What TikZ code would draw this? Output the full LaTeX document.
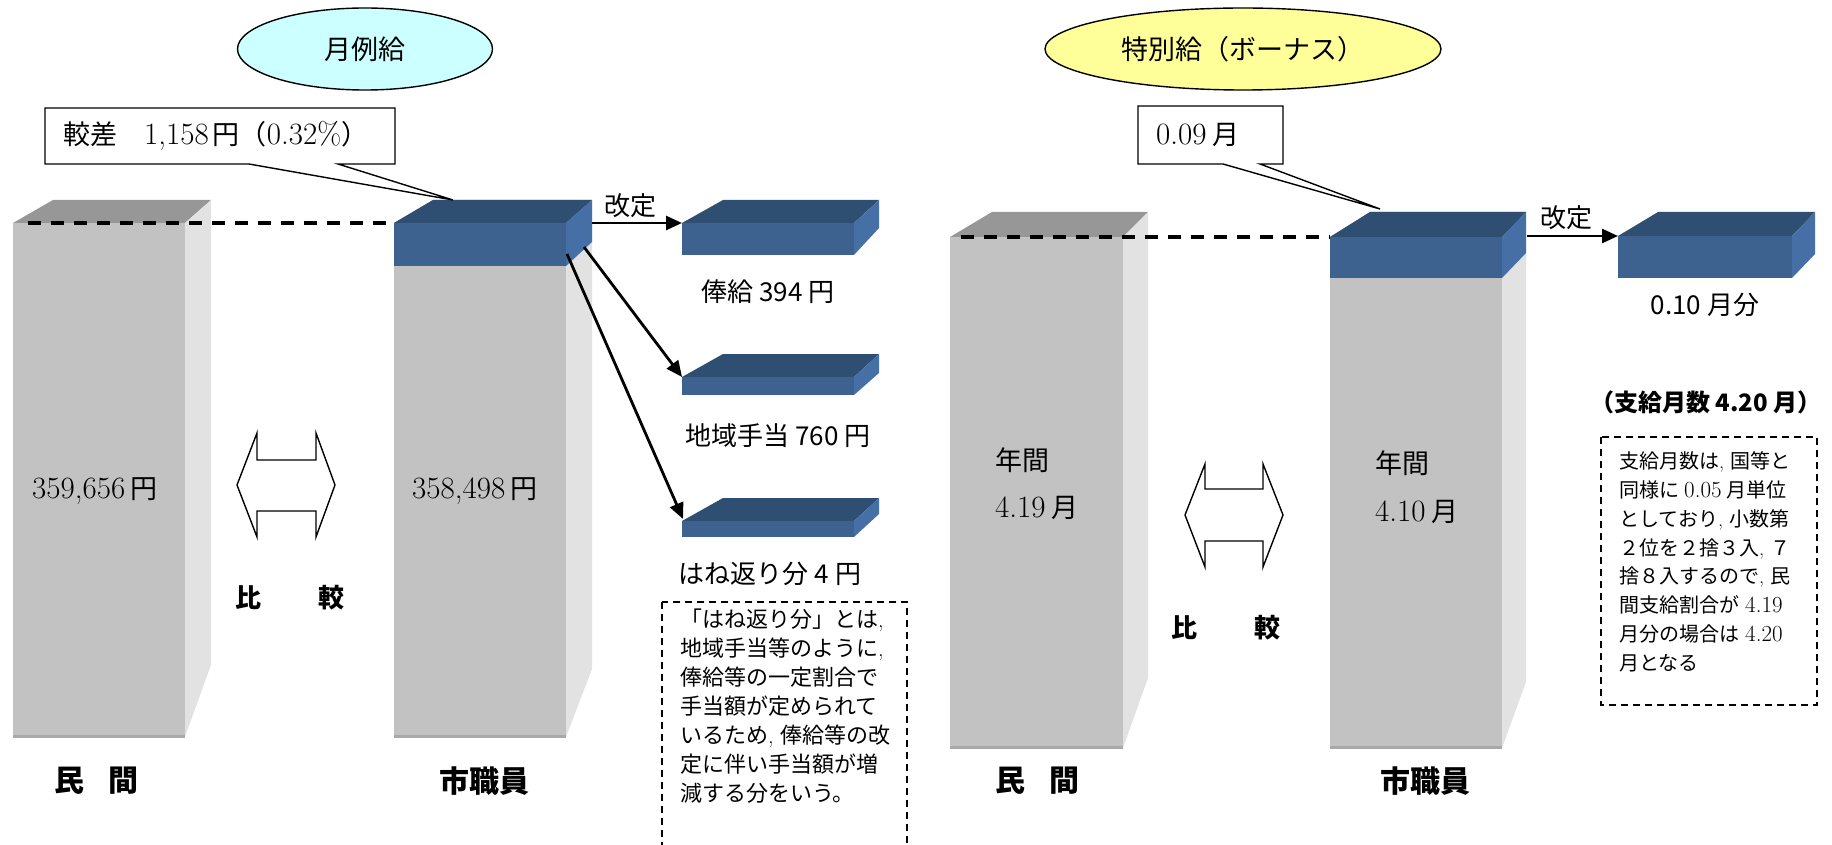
\documentclass[tikz,border=0pt]{standalone}
\usepackage{fontspec}
\newfontfamily\jp{Noto Sans CJK JP}
\usetikzlibrary{shapes.geometric,arrows.meta}
\definecolor{greyfront}{HTML}{C2C2C2}
\definecolor{greytop}{HTML}{979797}
\definecolor{greyside}{HTML}{E2E2E2}
\definecolor{greyedge}{HTML}{A9A9A9}
\definecolor{bluefront}{HTML}{3E628F}
\definecolor{bluetop}{HTML}{2F4F72}
\definecolor{blueside}{HTML}{4670A5}
\definecolor{cyanfill}{HTML}{CCFFFF}
\definecolor{yellowfill}{HTML}{FFFF99}
\newcommand{\fs}[1]{\fontsize{#1}{#1}\selectfont}
\newcommand{\num}[2]{{\rmfamily\fontsize{#1}{#1}\selectfont #2}}
\newcommand{\rc}{{\rmfamily,}\hspace{0.3em}}
% front x1,y1,x2,y2 ; left dx ; right dx ; top dy ; side-bottom dy ; colour prefix
\newcommand{\prism}[9]{%
  \fill[#9top] (#1,#2) -- (#1+#5,#2-#7) -- (#3+#6,#2-#7) -- (#3,#2) -- cycle;
  \fill[#9side] (#3,#2) -- (#3+#6,#2-#7) -- (#3+#6,#4-#8) -- (#3,#4) -- cycle;
  \fill[#9front] (#1,#2) rectangle (#3,#4);
}
\tikzset{
  conn/.style={line width=2.8pt, -{Triangle[length=16pt,width=14pt]}},
  cmp/.style={draw=black, fill=white, line width=1.4pt, line join=miter},
  lvl/.style={line width=3.2pt, dash pattern=on 13pt off 10pt},
  callout/.style={draw=black, fill=white, line width=1.4pt},
  note/.style={draw=black, line width=1.6pt, dash pattern=on 7pt off 5pt},
  oval/.style={ellipse, draw=black, line width=1.4pt, inner sep=0pt},
  big/.style={font=\jp\bfseries\fs{30}, inner sep=0pt},
  cmpl/.style={font=\jp\bfseries\fs{26}, inner sep=0pt},
  lab/.style={font=\jp\fs{26}, inner sep=0pt},
  val/.style={font=\jp\fs{27}, inner sep=0pt, anchor=west},
  ntl/.style={font=\jp\fs{22}, inner sep=0pt, anchor=base west},
  ntr/.style={font=\jp\fs{20}, inner sep=0pt, anchor=base west},
}
\begin{document}
\begin{tikzpicture}[x=1pt,y=-1pt]
\useasboundingbox (0,0) rectangle (1832,845);

% ---------- left panel: bars ----------
\prism{13}{223}{185}{737}{40}{26}{23}{72}{grey}
\fill[greyedge] (13,735) rectangle (185,738);
\prism{394}{223}{566}{737}{39}{26}{23}{68}{grey}
\fill[greyedge] (394,735) rectangle (566,738);
\prism{394}{223}{566}{266}{39}{26}{23}{24}{blue}
\prism{682}{223}{854}{255}{41}{25}{23}{27}{blue}
\prism{682}{377}{854}{395}{41}{25}{23}{22}{blue}
\prism{682}{521}{854}{537}{41}{25}{23}{23}{blue}

% ---------- right panel: bars ----------
\prism{950}{237}{1123}{748}{42}{25}{25}{70}{grey}
\fill[greyedge] (950,746) rectangle (1123,749);
\prism{1330}{237}{1502}{748}{40}{24}{25}{66}{grey}
\fill[greyedge] (1330,746) rectangle (1502,749);
\prism{1330}{237}{1502}{278}{40}{24}{25}{25}{blue}
\prism{1618}{236}{1792}{278}{40}{23}{24}{24}{blue}

% ---------- level lines ----------
\coordinate (lvL) at (28,223);
\coordinate (blueL) at (394,223);
\draw[lvl] (lvL) -- (blueL);
\coordinate (lvR) at (961,237);
\coordinate (blueR) at (1330,237);
\draw[lvl] (lvR) -- (blueR);

% ---------- ovals ----------
\node[oval, fill=cyanfill, minimum width=255pt, minimum height=82pt, font=\jp\fs{27}] (ovL) at (365,49) {月例給};
\node[oval, fill=yellowfill, minimum width=396pt, minimum height=82pt, font=\jp\fs{27}] (ovR) at (1243,49) {特別給（ボーナス）};

% ---------- callouts ----------
\coordinate (tipL) at (453,200);
\draw[callout] (45,108) -- (395,108) -- (395,164) -- (338,164) -- (tipL) -- (249,164) -- (45,164) -- cycle;
\node[anchor=west, font=\jp\fs{27}, inner sep=0pt] (gapL) at (63,136) {較差　\num{31}{1,158}\hspace{4pt}円（\num{31}{0.32\%}）};
\coordinate (tipR) at (1380,209);
\draw[callout] (1138,106) -- (1283,106) -- (1283,164) -- (1260,164) -- (tipR) -- (1223,164) -- (1138,164) -- cycle;
\node[anchor=west, font=\jp\fs{27}, inner sep=0pt] (gapR) at (1156,135) {\num{31}{0.09}\hspace{6pt}月};

% ---------- compare arrows ----------
\draw[cmp] (237,485) -- (257,433) -- (257,460) -- (316,460) -- (316,433) -- (335,485)
  -- (316,537) -- (316,511) -- (257,511) -- (257,537) -- cycle;
\draw[cmp] (1185,515) -- (1205,464) -- (1205,489) -- (1263,489) -- (1263,464) -- (1283,515)
  -- (1263,567) -- (1263,541) -- (1205,541) -- (1205,567) -- cycle;
\node[cmpl] (cmpL) at (290,598) {比\hspace{58pt}較};
\node[cmpl] (cmpR) at (1226,628) {比\hspace{58pt}較};

% ---------- values in bars ----------
\node[val] (vPriv) at (32,491) {\num{31}{359,656}\hspace{5pt}円};
\node[val] (vCity) at (412,491) {\num{31}{358,498}\hspace{5pt}円};
\node[val] (yPriv) at (995,460) {年間};
\node[val] (mPriv) at (995,508) {\num{31}{4.19}\hspace{6pt}月};
\node[val] (yCity) at (1375,463) {年間};
\node[val] (mCity) at (1375,512) {\num{31}{4.10}\hspace{6pt}月};

% ---------- bar captions ----------
\node[big] (capPL) at (96,781) {民\hspace{24pt}間};
\node[big] (capCL) at (484,781) {市職員};
\node[big] (capPR) at (1037,781) {民\hspace{24pt}間};
\node[big] (capCR) at (1425,781) {市職員};

% ---------- revision arrows ----------
\coordinate (sideL) at (592,223);
\coordinate (box1) at (682,223);
\draw[conn] (sideL) -- (box1);
\node[lab] (revL) at (630,206) {改定};
\coordinate (sideL2) at (584,247);
\coordinate (box2) at (682,377);
\draw[conn] (sideL2) -- (box2);
\coordinate (sideL3) at (567,254);
\coordinate (box3) at (683,519);
\draw[conn] (sideL3) -- (box3);
\coordinate (sideR) at (1527,236);
\coordinate (boxR) at (1618,236);
\draw[conn] (sideR) -- (boxR);
\node[lab] (revR) at (1566,218) {改定};

% ---------- box labels ----------
\node[lab] (l1) at (768,292) {俸給 394 円};
\node[lab] (l2) at (778,436) {地域手当 760 円};
\node[lab] (l3) at (770,574) {はね返り分 4 円};
\node[lab] (lR) at (1705,305) {0.10 月分};
\node[font=\jp\bfseries\fs{24}, inner sep=0pt] (lR2) at (1706,402) {（支給月数 4.20 月）};

% ---------- note boxes ----------
\draw[note] (662,602) rectangle (907,870);
\node[ntl] (nl1) at (680,627) {「はね返り分」とは\rc};
\node[ntl] (nl2) at (680,656) {地域手当等のように\rc};
\node[ntl] (nl3) at (680,685) {俸給等の一定割合で};
\node[ntl] (nl4) at (680,714) {手当額が定められて};
\node[ntl] (nl5) at (680,743) {いるため\rc 俸給等の改};
\node[ntl] (nl6) at (680,772) {定に伴い手当額が増};
\node[ntl] (nl7) at (680,801) {減する分をいう。};

\draw[note] (1601,437) rectangle (1817,705);
\node[ntr] (nr1) at (1619,468) {支給月数は\rc 国等と};
\node[ntr] (nr2) at (1619,497) {同様に\hspace{5pt}\num{23}{0.05}\hspace{5pt}月単位};
\node[ntr] (nr3) at (1619,526) {としており\rc 小数第};
\node[ntr] (nr4) at (1619,555) {２位を２捨３入\rc ７};
\node[ntr] (nr5) at (1619,583) {捨８入するので\rc 民};
\node[ntr] (nr6) at (1619,612) {間支給割合が\hspace{6pt}\num{23}{4.19}};
\node[ntr] (nr7) at (1619,641) {月分の場合は\hspace{6pt}\num{23}{4.20}};
\node[ntr] (nr8) at (1619,670) {月となる};
\end{tikzpicture}
\end{document}
